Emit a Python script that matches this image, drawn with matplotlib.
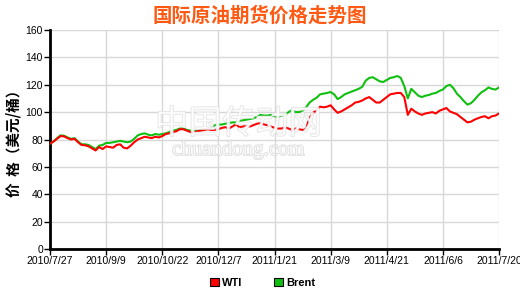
import matplotlib.pyplot as plt
import matplotlib.patheffects as pe
from matplotlib.patches import Patch
import numpy as np

plt.rcParams['font.family'] = ['Liberation Sans', 'Noto Sans CJK SC', 'DejaVu Sans']

title = "国际原油期货价格走势图"
ylabel = "价  格（美元/桶）"
tick_dates = ["2010/7/27", "2010/9/9", "2010/10/22", "2010/12/7", "2011/1/21",
              "2011/3/9", "2011/4/21", "2011/6/6", "2011/7/20"]

wti = [77, 78.5, 80.5, 82.5, 82.3, 81, 80, 80.5, 78, 76,
       75.8, 75, 73.5, 72, 74.5, 73, 75, 74.5, 74, 76,
       76.5, 74, 73.5, 75.5, 78, 80, 81, 82, 81.5, 81,
       82, 81.5, 82.5, 84, 84.5, 85.5, 86, 87.5, 87.5, 86.5,
       85.5, 85, 86, 86.5, 87, 87.5, 87, 87, 87.5, 88.5,
       89, 88, 89.5, 91, 89, 89.5, 90, 89.5, 90.5, 91.5,
       92, 91, 90.5, 89.5, 88.5, 88, 88, 89, 88, 87,
       88, 87.5, 87, 88, 96, 99.5, 101.5, 104, 103.5, 104,
       105, 102, 99.5, 100.5, 102, 103.5, 105, 107, 107.5, 108.5,
       110, 111, 109, 107, 107, 109, 111, 113, 113.5, 114,
       114, 111, 98, 102.5, 100.5, 99, 98, 99, 99.5, 100,
       99, 101, 102, 103, 100.5, 99.5, 98.5, 96.5, 94.5, 92.5,
       93, 94.5, 95.5, 96.5, 97, 95.5, 97, 97.5, 99]
brent = [77, 78.5, 81, 83, 82.8, 81.5, 80.5, 81, 78.5, 76.5,
         76.5, 76, 74.5, 73, 75.5, 76, 77.5, 77.5, 78, 78.5,
         79, 78.5, 78, 78.5, 80.5, 83, 84, 84.5, 83.5, 83,
         84, 83.5, 84, 84.5, 85.5, 86.5, 87, 88, 88, 87,
         86.5, 86, 86.5, 87, 87.5, 88, 88.5, 90.5, 90.8, 91,
         91.5, 92, 92.5, 92.5, 93.5, 94, 94.5, 95, 95.5, 96.5,
         98, 97.5, 97.5, 98, 97, 96.5, 97.5, 98, 100, 101.5,
         100, 100, 101, 103.5, 107, 109, 110.5, 113, 113.5, 114,
         114.7, 113, 109.5, 111, 113, 114, 115, 116, 117, 118.5,
         123, 125, 125.5, 124, 122.5, 122, 123.5, 125, 125.5, 126.4,
         125, 119, 110, 117, 114.5, 112, 111, 112, 112.5, 113.5,
         114, 115.5, 116.5, 119, 120, 117.5, 113.5, 111, 108, 105.5,
         106.5, 109, 112, 114.5, 116, 118, 117, 116.5, 118]

x = np.arange(len(wti)) * 2
tick_pos = np.arange(len(tick_dates)) * 32

fig = plt.figure(figsize=(5.2, 2.9), dpi=100)
ax = fig.add_axes([50/520, 41/290, 449/520, 219/290])

ax.plot(x, brent, color='#10c010', lw=1.5, zorder=3)
ax.plot(x, wti, color='#ff0000', lw=1.5, zorder=4)

ax.set_xlim(0, 256)
ax.set_ylim(0, 160)
ax.set_yticks(np.arange(0, 161, 20))
ax.set_xticks(tick_pos)
ax.set_xticklabels(tick_dates)
ax.tick_params(labelsize=7.5, length=4, width=1, colors='black', pad=1)
ax.grid(True, color='#d8d8d8', lw=1)
ax.set_axisbelow(True)
for s in ['top', 'right']:
    ax.spines[s].set_visible(False)
for s in ['left', 'bottom']:
    ax.spines[s].set_linewidth(2)

ax.set_ylabel(ylabel, fontsize=10.5, fontweight='bold', labelpad=3,
              family=['Noto Sans CJK SC', 'DejaVu Sans'])

# watermark
ax.text(0.42, 0.57, "中国传动网", transform=ax.transAxes, ha='center', va='center',
        fontsize=24, color='white', alpha=0.7, zorder=5,
        family=['Noto Sans CJK SC'],
        path_effects=[pe.withStroke(linewidth=1.0, foreground='#d8d8d8')])
ax.text(0.42, 0.45, "chuandong.com", transform=ax.transAxes, ha='center', va='center',
        fontsize=15, color='white', alpha=0.8, zorder=5, family='Liberation Serif',
        path_effects=[pe.withStroke(linewidth=1.0, foreground='#d0d0d0')])

fig.text(0.5, 0.945, title, ha='center', va='center', fontsize=14, fontweight='bold',
         color='#ff5a14', family=['Noto Sans CJK SC'])

handles = [Patch(facecolor='#ff0000', edgecolor='black', lw=0.8, label='WTI'),
           Patch(facecolor='#10c010', edgecolor='black', lw=0.8, label='Brent')]
fig.legend(handles=handles, loc='center', bbox_to_anchor=(0.505, 0.024), ncol=2,
           frameon=False, handlelength=0.8, handleheight=0.8, handletextpad=0.3,
           columnspacing=2.8, prop={'size': 8, 'weight': 'bold'})

fig.savefig('out.png', dpi=100)
